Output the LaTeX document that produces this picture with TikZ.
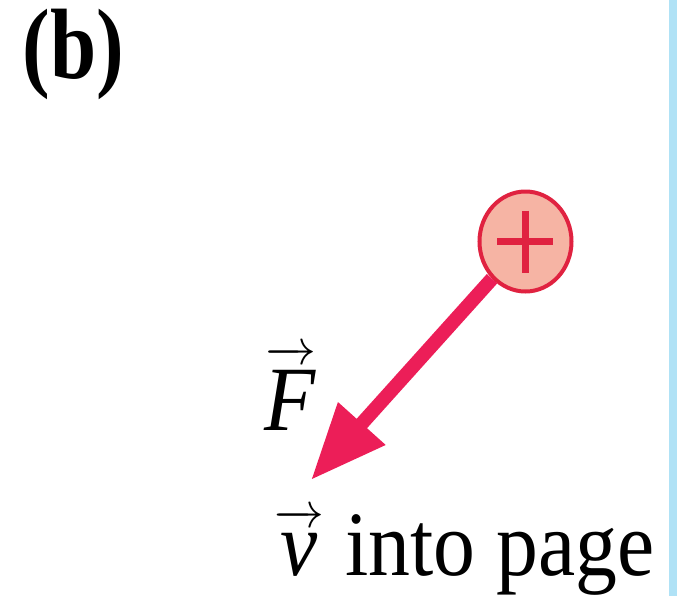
\documentclass[tikz,border=0pt]{standalone}
\usepackage{fontspec}
\setmainfont{Liberation Serif}
\newfontfamily\panelfont[FakeStretch=0.83]{Liberation Serif}
\newfontfamily\captionfont[FakeStretch=0.91]{Liberation Serif}
\usetikzlibrary{arrows.meta,shapes.geometric}

\definecolor{chargefill}{RGB}{246,180,164}
\definecolor{chargeline}{RGB}{224,34,64}
\definecolor{forcered}{RGB}{236,30,88}
\definecolor{stripblue}{RGB}{176,226,246}

% vector letter with a raised arrow over it
\newcommand\vecletter[1]{%
  $\overrightarrow{\raisebox{0pt}[\dimexpr\height+3.5pt\relax]{\textit{#1}}}$}

\tikzset{
  charge/.style={ellipse, draw=chargeline, fill=chargefill, line width=2pt,
    minimum width=46pt, minimum height=50pt, inner sep=0pt},
  plusbar/.style={chargeline, line width=3.6pt},
  forcearrow/.style={forcered, line width=7pt,
    -{Triangle[length=38pt, width=30pt]}},
  bigtext/.style={inner sep=0pt, font=\fontsize{46pt}{50pt}\selectfont\captionfont}
}

\begin{document}
\begin{tikzpicture}[x=0.5pt, y=-0.5pt]
  \useasboundingbox (0,0) rectangle (677,596);
  % Light blue strip along the right edge
  \fill[stripblue] (669,0) rectangle (677,596);
  % Panel label
  \node[inner sep=0pt, anchor=base west,
    font=\fontsize{50pt}{54pt}\selectfont\panelfont\bfseries]
    (label) at (22,78) {(b)};
  % Positive charge and the force on it
  \node[charge] (q) at (525.5,241.5) {};
  \coordinate (tip) at (311,480);
  \draw[forcearrow] (q) -- (tip);
  \draw[plusbar] ([xshift=-14pt]q.center) -- ([xshift=14pt]q.center);
  \draw[plusbar] ([yshift=15.5pt]q.center) -- ([yshift=-15.5pt]q.center);
  % Labels
  \node[bigtext, anchor=base west] (F) at (264,430) {\vecletter{F}};
  \node[bigtext, anchor=base west] (v) at (274,575) {\vecletter{v} into page};
\end{tikzpicture}
\end{document}
